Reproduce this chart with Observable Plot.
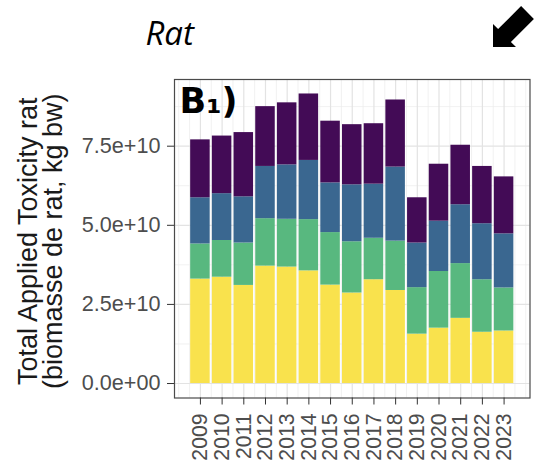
<!DOCTYPE html>
<html><head><meta charset="utf-8">
<script src="https://cdn.jsdelivr.net/npm/d3@7"></script>
<script src="https://cdn.jsdelivr.net/npm/@observablehq/plot@0.6"></script>
<style>
body{margin:0;background:#fff}
#wrap{position:relative;width:539px;height:468px}
#arrow{position:absolute;left:0;top:0;pointer-events:none}
</style>
</head><body><div id="wrap"></div>
<script>
// ---- data ----
const years = [2009, 2010, 2011, 2012, 2013, 2014, 2015, 2016, 2017, 2018, 2019, 2020, 2021, 2022, 2023];
const series = ["Catégorie 1", "Catégorie 2", "Catégorie 3", "Catégorie 4"]; // bottom -> top
const values1 = [3.30e10, 3.36e10, 3.10e10, 3.71e10, 3.68e10, 3.56e10, 3.11e10, 2.86e10, 3.28e10, 2.94e10, 1.56e10, 1.75e10, 2.06e10, 1.62e10, 1.66e10];
const values2 = [1.11e10, 1.16e10, 1.34e10, 1.50e10, 1.51e10, 1.62e10, 1.66e10, 1.62e10, 1.31e10, 1.56e10, 1.47e10, 1.79e10, 1.73e10, 1.66e10, 1.36e10];
const values3 = [1.46e10, 1.48e10, 1.46e10, 1.65e10, 1.72e10, 1.87e10, 1.57e10, 1.80e10, 1.71e10, 2.34e10, 1.41e10, 1.59e10, 1.86e10, 1.77e10, 1.71e10];
const values4 = [1.83e10, 1.82e10, 2.03e10, 1.89e10, 1.96e10, 2.10e10, 1.95e10, 1.90e10, 1.91e10, 2.12e10, 1.43e10, 1.80e10, 1.88e10, 1.81e10, 1.80e10];
const yTicks = [0, 2.5e10, 5e10, 7.5e10];
const yTickLabels = ["0.0e+00", "2.5e+10", "5.0e+10", "7.5e+10"];
const yTitleLines = ["Total Applied Toxicity rat", "(biomasse de rat, kg bw)"];
const panelTitle = "Rat";
const panelTag = "B\u2081)";

// ---- build table ----
const seriesValues = [values1, values2, values3, values4];
const table = years.flatMap((yr, i) => series.map((s, k) => ({year: yr, group: s, value: seriesValues[k][i]})));
const totals = years.map((yr, i) => d3.sum(seriesValues, v => v[i]));
const ymax = d3.max(totals);
const half = 0.45;
const xspan = (years[years.length - 1] + half) - (years[0] - half);
const xDomain = [years[0] - half - 0.05 * xspan, years[years.length - 1] + half + 0.05 * xspan];
const yDomain = [-0.05 * ymax, 1.05 * ymax];
const minorX = d3.range(years[0] - 1, years[years.length - 1] + 1.01, 0.5).filter(v => !years.includes(v));
const minorY = d3.range(yTicks[1] / 2, yDomain[1], yTicks[1]);

const colors = ["#f9e24d", "#58b87f", "#3a6790", "#430b56"];

const chart = Plot.plot({
  width: 539,
  height: 468,
  marginLeft: 174,
  marginRight: 9.5,
  marginTop: 79,
  marginBottom: 70.5,
  style: {fontFamily: "'Liberation Sans', Arial, sans-serif", background: "white"},
  x: {type: "linear", domain: xDomain, axis: null},
  y: {domain: yDomain, axis: null},
  color: {domain: series, range: colors},
  marks: [
    Plot.gridX(minorX, {stroke: "#ebebeb", strokeOpacity: 1, strokeWidth: 0.7}),
    Plot.gridY(minorY, {stroke: "#ebebeb", strokeOpacity: 1, strokeWidth: 0.7}),
    Plot.gridX(years, {stroke: "#e3e3e3", strokeOpacity: 1, strokeWidth: 1.2}),
    Plot.gridY(yTicks, {stroke: "#e3e3e3", strokeOpacity: 1, strokeWidth: 1.2}),
    Plot.rect(table, Plot.stackY({
      x: "year",
      x1: d => d.year - half,
      x2: d => d.year + half,
      y: "value",
      fill: "group"
    })),
    Plot.frame({stroke: "#4a4a4a", strokeWidth: 1.2}),
    Plot.axisY({ticks: yTicks, tickFormat: d => yTickLabels[yTicks.indexOf(d)], tickSize: 7, tickPadding: 7,
      fontSize: 21.6, stroke: "#333", fill: "#4d4d4d", label: null}),
    Plot.axisX({ticks: years, tickFormat: d => String(d), tickRotate: -90, tickSize: 7, tickPadding: 8.5,
      fontSize: 21.2, stroke: "#333", fill: "#4d4d4d", label: null}),
    Plot.text([yTitleLines.join("\n")], {text: d => d, frameAnchor: "left", rotate: -90, dx: -112.3, dy: 2.5,
      lineAnchor: "bottom", textAnchor: "middle", lineHeight: 0.926, fontSize: 27, fill: "#1a1a1a"}),
    Plot.text([panelTag], {text: d => d, frameAnchor: "top-left", dx: 5, dy: 9, lineAnchor: "top", textAnchor: "start",
      fontSize: 35, fontWeight: "bold", fontFamily: "'DejaVu Sans', sans-serif", fill: "#000"}),
    Plot.text([panelTitle], {text: d => d, frameAnchor: "top-left", dx: -29, dy: -35, lineAnchor: "bottom", textAnchor: "start",
      fontSize: 33, fontStyle: "italic", fontFamily: "'Open Sans', sans-serif", fill: "#000"})
  ]
});
const wrap = document.getElementById("wrap");
wrap.appendChild(chart);
const ns = "http://www.w3.org/2000/svg";
const arrow = document.createElementNS(ns, "svg");
arrow.setAttribute("id", "arrow");
arrow.setAttribute("width", 539);
arrow.setAttribute("height", 468);
const poly = document.createElementNS(ns, "polygon");
poly.setAttribute("points", "493,47 493,24 498.1,29.1 521.1,6.1 533.9,18.9 510.9,41.9 516,47");
poly.setAttribute("fill", "#000");
arrow.appendChild(poly);
wrap.appendChild(arrow);
</script>
</body></html>
